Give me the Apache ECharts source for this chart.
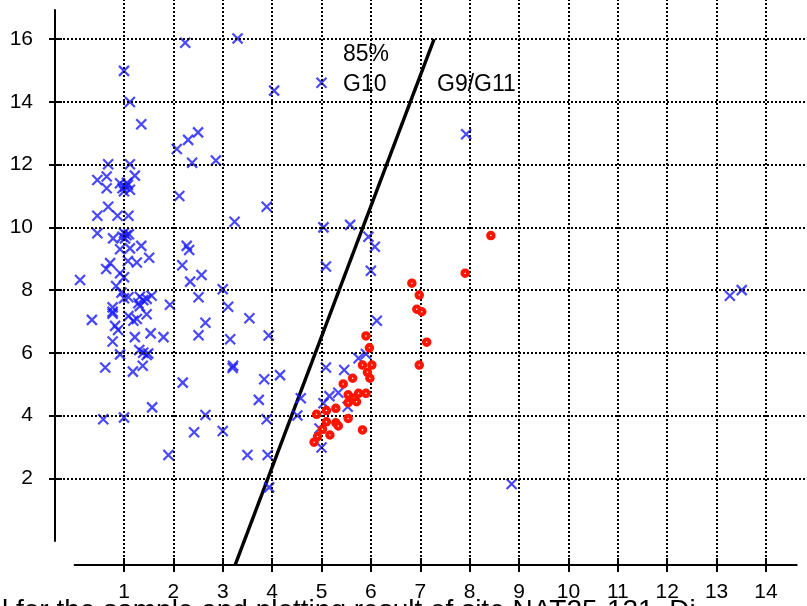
<!DOCTYPE html>
<html>
<head>
<meta charset="utf-8">
<script src="https://cdn.jsdelivr.net/npm/echarts@6/dist/echarts.min.js"></script>
<style>
  html, body { margin: 0; padding: 0; background: #fff; }
  #chart { width: 807px; height: 606px; }
</style>
</head>
<body>
<div id="chart"></div>
<script>
// ---- data ----
const xTickValues = [1, 2, 3, 4, 5, 6, 7, 8, 9, 10, 11, 12, 13, 14];
const yTickValues = [2, 4, 6, 8, 10, 12, 14, 16];

const blueCrosses = [
  [1.0,14.99],[1.12,14.0],[1.35,13.29],[2.24,15.89],[3.30,16.02],[4.04,14.36],[5.0,14.61],[7.93,12.97],
  [2.07,12.5],[2.30,12.79],[2.50,13.03],[2.38,12.06],[2.86,12.13],
  [0.68,12.01],[1.12,12.01],[0.46,11.51],[0.65,11.62],[0.65,11.25],[1.22,11.65],[0.92,11.41],
  [1.02,11.3],[1.08,11.35],[1.12,11.2],[1.0,11.15],[1.06,11.42],[0.97,11.25],
  [2.12,11.0],
  [0.68,10.66],[0.46,10.37],[0.87,10.37],[1.09,10.37],[0.46,9.81],[0.78,9.65],
  [1.0,9.82],[1.05,9.75],[0.97,9.7],[1.1,9.78],[1.02,9.65],
  [0.92,9.30],[1.12,9.33],[1.35,9.41],[1.51,9.03],[1.08,8.93],[1.26,8.88],[0.72,8.86],[0.64,8.67],
  [0.11,8.32],[0.92,8.54],[1.0,8.41],[0.84,8.13],[0.95,7.92],[1.0,7.74],[1.09,7.77],[1.32,7.79],
  [1.39,7.68],[1.56,7.82],[1.29,7.58],[1.32,7.49],[1.46,7.72],[0.77,7.45],[0.77,7.31],[0.77,7.25],
  [0.35,7.05],[1.09,7.17],[1.26,7.08],[1.19,7.02],[1.46,7.23],[0.82,6.86],[0.88,6.73],[1.54,6.62],
  [1.22,6.50],[1.80,6.50],[0.77,6.36],[1.31,6.09],[1.39,6.0],[1.46,5.93],[1.49,5.98],[0.92,5.95],
  [0.62,5.53],[1.18,5.40],[1.38,5.59],
  [1.93,7.53],[2.18,8.79],[2.27,9.41],[2.32,9.28],[2.34,8.27],[2.57,8.48],[2.51,7.77],[3.0,8.03],
  [3.11,7.47],[3.54,7.10],[2.65,6.96],[2.51,6.56],[3.15,6.43],[3.93,6.55],[3.21,5.59],[3.20,5.52],
  [2.19,5.05],[3.84,5.16],[4.16,5.29],[3.73,4.5],[3.24,10.18],[3.89,10.66],
  [0.58,3.88],[1.0,3.94],[1.57,4.26],[2.42,3.47],[2.65,4.02],[3.0,3.51],[1.90,2.74],[3.5,2.74],
  [3.91,2.74],[3.89,3.88],[3.94,1.71],
  [5.04,10.0],[5.58,10.08],[5.95,9.70],[6.08,9.38],[5.09,8.75],[6.0,8.62],[6.12,7.02],[5.75,5.83],
  [5.90,5.96],[5.09,5.53],[5.46,5.45],[5.16,4.62],[5.34,4.73],[4.58,4.55],[5.04,4.39],[4.51,4.0],
  [5.0,2.98],[4.96,3.59],[5.53,4.28],[8.85,1.82],[13.27,7.82],[13.51,8.0]
];

const redCircles = [
  [8.43,9.74],[7.91,8.54],[6.83,8.22],[6.98,7.84],[6.93,7.39],[7.03,7.31],[7.13,6.34],[6.98,5.61],
  [5.90,6.54],[5.97,6.16],[5.83,5.61],[6.02,5.61],[5.93,5.38],[5.98,5.19],[5.63,5.19],[5.44,5.01],
  [5.54,4.66],[5.75,4.71],[5.90,4.71],[5.66,4.55],[5.71,4.44],[5.54,4.41],[5.29,4.23],[4.90,4.04],
  [5.10,4.16],[5.10,3.80],[5.29,3.77],[5.34,3.67],[5.54,3.91],[5.02,3.56],[5.83,3.54],[5.17,3.38],
  [4.92,3.33],[4.85,3.15]
];

const boundaryLine = [[3.25, -0.77], [7.28, 16.0]];

const annotations = ['85%', 'G10', 'G9/G11'];
const captionText = 'l for the sample and plotting result of site NAT25-121. Di';

// ---- chart ----
const FONT = 'Liberation Sans, Arial, Helvetica, sans-serif';
const gridStyle = { color: '#000', width: 2, type: [2, 2] };

const chart = echarts.init(document.getElementById('chart'), null, { renderer: 'canvas' });

const hiddenAxis = (gi, min, max) => ({
  type: 'value', gridIndex: gi, min: min, max: max, show: false,
  splitLine: { show: false }
});

const option = {
  animation: false,
  backgroundColor: '#fff',
  grid: [
    { left: 55, right: 0, top: 0, bottom: 41, outerBoundsMode: 'none' },
    { left: 74.6, right: 10.3, top: 0, bottom: 41, outerBoundsMode: 'none' },
    { left: 74.6, right: 10.3, top: 0, bottom: 41, outerBoundsMode: 'none' },
    { left: 55, right: 0, top: 10, bottom: 65, outerBoundsMode: 'none' },
    { left: 55, right: 0, top: 10, bottom: 65, outerBoundsMode: 'none' }
  ],
  xAxis: [
    hiddenAxis(0, -0.397, 14.832),
    {
      type: 'value', gridIndex: 1, min: 0, max: 14.623, position: 'bottom',
      splitLine: { show: false },
      axisLine: { show: true, lineStyle: { color: '#000', width: 2 } },
      axisTick: { show: true, inside: false, length: 7, customValues: xTickValues, lineStyle: { color: '#000', width: 2 } },
      axisLabel: { show: true, customValues: xTickValues, margin: 17, color: '#000', fontSize: 21, fontFamily: FONT,
                   formatter: v => String(v) }
    },
    {
      type: 'value', gridIndex: 2, min: 0, max: 14.623, position: 'bottom',
      splitLine: { show: false },
      axisLine: { show: false },
      axisTick: { show: true, inside: true, length: 7, customValues: xTickValues, lineStyle: { color: '#000', width: 2 } },
      axisLabel: { show: false }
    },
    hiddenAxis(3, 0, 1),
    hiddenAxis(4, 0, 1)
  ],
  yAxis: [
    hiddenAxis(0, -0.765, 17.25),
    hiddenAxis(1, 0, 1),
    hiddenAxis(2, 0, 1),
    {
      type: 'value', gridIndex: 3, min: 0, max: 16.93, position: 'left',
      splitLine: { show: false },
      axisLine: { show: true, lineStyle: { color: '#000', width: 2 } },
      axisTick: { show: true, inside: false, length: 6, customValues: yTickValues, lineStyle: { color: '#000', width: 2 } },
      axisLabel: { show: true, customValues: yTickValues, margin: 22, color: '#000', fontSize: 21, fontFamily: FONT,
                   formatter: v => String(v) }
    },
    {
      type: 'value', gridIndex: 4, min: 0, max: 16.93, position: 'left',
      splitLine: { show: false },
      axisLine: { show: false },
      axisTick: { show: true, inside: true, length: 7, customValues: yTickValues, lineStyle: { color: '#000', width: 2 } },
      axisLabel: { show: false }
    }
  ],
  series: [
    {
      type: 'line', xAxisIndex: 0, yAxisIndex: 0, data: [], silent: true,
      markLine: {
        silent: true, symbol: ['none', 'none'], label: { show: false },
        lineStyle: gridStyle, animation: false,
        data: xTickValues.map(v => ({ xAxis: v })).concat(yTickValues.map(v => ({ yAxis: v })))
      }
    },
    {
      type: 'line', xAxisIndex: 0, yAxisIndex: 0, data: boundaryLine,
      showSymbol: false, symbol: 'none', silent: true, clip: false,
      lineStyle: { color: '#000', width: 3.4 }, z: 3
    },
    {
      type: 'scatter', xAxisIndex: 0, yAxisIndex: 0, data: blueCrosses,
      symbol: 'path://M0,0L10,10M10,0L0,10', symbolSize: 10,
      itemStyle: { color: 'rgba(0,0,0,0)', borderColor: '#1a1aff', borderWidth: 2.2 }, z: 4
    },
    {
      type: 'scatter', xAxisIndex: 0, yAxisIndex: 0, data: redCircles,
      symbol: 'circle', symbolSize: 5.5,
      itemStyle: { color: '#ffffff', borderColor: '#ff1400', borderWidth: 4, opacity: 1 }, z: 5
    }
  ],
  graphic: [
    { type: 'text', x: 343, y: 55, z: 10, style: { text: annotations[0], fill: '#000', font: '23px ' + FONT, textVerticalAlign: 'middle' } },
    { type: 'text', x: 343, y: 84.5, z: 10, style: { text: annotations[1], fill: '#000', font: '23px ' + FONT, textVerticalAlign: 'middle' } },
    { type: 'text', x: 437, y: 84.5, z: 10, style: { text: annotations[2], fill: '#000', font: '23px ' + FONT, textVerticalAlign: 'middle' } },
    { type: 'text', x: 2, y: 611, z: 10, style: { text: captionText, fill: '#000', font: '28px ' + FONT, textVerticalAlign: 'middle' } }
  ]
};

chart.setOption(option);
</script>
</body>
</html>
